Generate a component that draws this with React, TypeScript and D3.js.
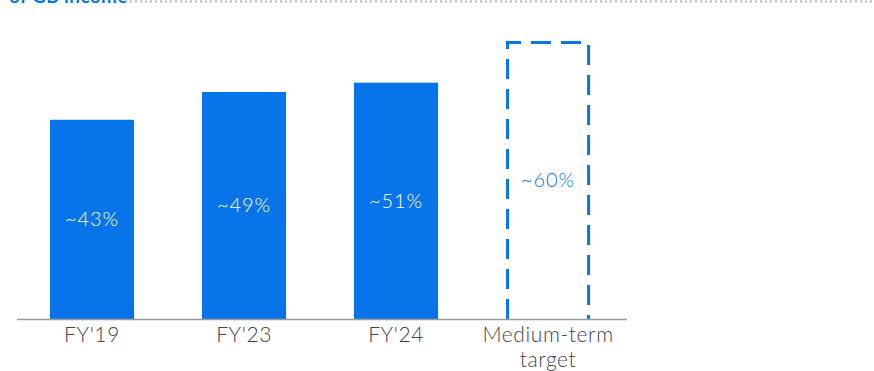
import React from "react";
import * as d3 from "d3";

const categories = ["FY'19", "FY'23", "FY'24", "Medium-term target"];
const values = [43, 49, 51, 60];
const valueLabels = ["~43%", "~49%", "~51%", "~60%"];
const isTarget = [false, false, false, true];
const title = "of GB income";

const W = 874;
const H = 371;
const BLUE = "#0874EA";

export default function App() {
  const x = d3.scaleBand<string>().domain(categories).range([4.4, 635.7]).paddingInner(0.447).paddingOuter(0.3);
  const y = d3.scaleLinear().domain([0, 60]).range([319, 41]);
  const font = "Lato, 'Noto Sans', sans-serif";

  return (
    <svg width={W} height={H} style={{ position: "absolute", left: 0, top: 0, background: "#fff" }} fontFamily={font}>
      <text x={9} y={3} fill={BLUE} fontSize={19} fontWeight={700} letterSpacing={0.4}>{title}</text>
      <line x1={125} x2={W} y1={1.5} y2={1.5} stroke="#b5b5b5" strokeWidth={2} strokeDasharray="2,3" />
      {categories.map((c, i) => {
        const bx = x(c)!;
        const bw = x.bandwidth();
        const top = y(values[i]);
        const base = y(0);
        const cx = bx + bw / 2;
        const cy = (top + base) / 2;
        return (
          <g key={c}>
            {isTarget[i] ? (
              <path
                d={`M${bx + 1.5},${base} V${top + 1.5} H${bx + bw - 1.5} V${base}`}
                fill="none"
                stroke={BLUE}
                strokeWidth={3}
                strokeDasharray="20,10"
              />
            ) : (
              <rect x={bx} y={top} width={bw} height={base - top} fill={BLUE} />
            )}
            <text
              x={cx}
              y={cy}
              dy="0.35em"
              textAnchor="middle"
              fontSize={20}
              fontWeight={300}
              letterSpacing={0.9}
              fill={isTarget[i] ? BLUE : "#fff"}
            >
              {valueLabels[i]}
            </text>
          </g>
        );
      })}
      <line x1={17} x2={627} y1={y(0) + 0.5} y2={y(0) + 0.5} stroke="#9a9a9a" strokeWidth={1.5} />
      {categories.map((c) => {
        const cx = x(c)! + x.bandwidth() / 2;
        const words = c === "Medium-term target" ? ["Medium-term", "target"] : [c];
        return (
          <text key={c} x={cx} textAnchor="middle" fontSize={21} fontWeight={300} letterSpacing={0.6} fill="#444">
            {words.map((w, k) => (
              <tspan key={k} x={cx} y={342 + k * 25}>{w}</tspan>
            ))}
          </text>
        );
      })}
    </svg>
  );
}
